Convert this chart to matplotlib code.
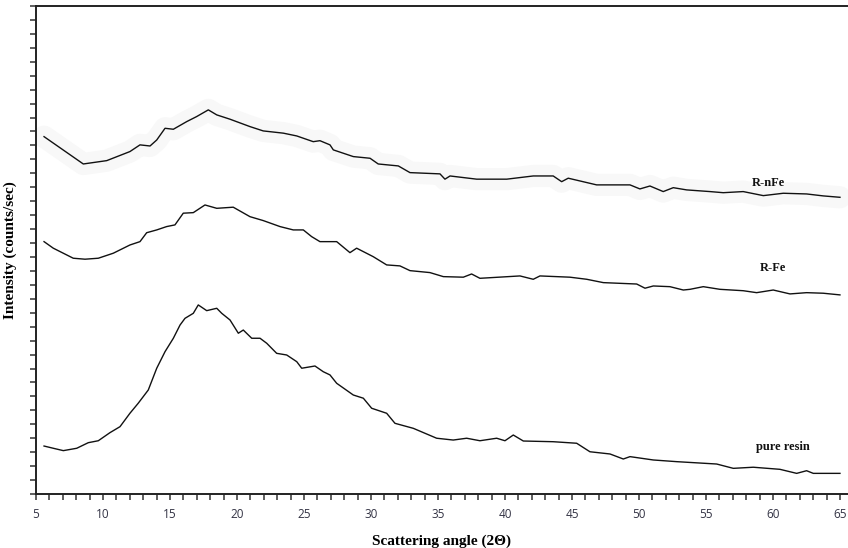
import matplotlib
matplotlib.use("Agg")
import matplotlib.pyplot as plt
from matplotlib.ticker import MultipleLocator

# ---- data (intensity in arbitrary units) ----
rnfe_x = [5.60, 8.53, 10.28, 12.01, 12.76, 13.51, 14.01, 14.63, 15.25, 16.25, 16.99, 17.86,
          18.49, 19.48, 20.97, 21.96, 23.46, 24.46, 25.69, 26.19, 26.94, 27.19, 28.68, 29.93,
          30.54, 32.04, 32.91, 35.15, 35.52, 35.90, 37.89, 40.13, 42.11, 43.60, 44.23, 44.72,
          46.84, 49.33, 50.07, 50.82, 51.81, 52.56, 53.56, 55.30, 56.29, 57.78, 59.28, 60.77,
          62.51, 63.75, 65.00]
rnfe_y = [25.63, 23.67, 23.91, 24.56, 25.04, 24.96, 25.39, 26.23, 26.16, 26.71, 27.07, 27.55,
          27.19, 26.88, 26.35, 26.04, 25.88, 25.68, 25.27, 25.34, 25.04, 24.68, 24.20, 24.08,
          23.67, 23.53, 23.05, 22.96, 22.58, 22.81, 22.58, 22.58, 22.81, 22.81, 22.40, 22.65,
          22.17, 22.17, 21.88, 22.09, 21.69, 21.97, 21.81, 21.69, 21.61, 21.69, 21.40, 21.57,
          21.52, 21.38, 21.28]

rfe_x = [5.60, 6.29, 7.78, 8.66, 9.65, 10.77, 12.01, 12.76, 13.26, 14.01, 14.75, 15.37,
         15.99, 16.74, 17.61, 18.49, 19.72, 20.97, 21.96, 23.21, 24.20, 24.95, 25.57, 26.19,
         27.44, 28.43, 28.93, 30.17, 31.17, 32.16, 32.91, 34.40, 35.40, 36.89, 37.51, 38.13,
         41.12, 42.11, 42.61, 44.85, 46.10, 47.34, 48.58, 49.83, 50.45, 51.07, 52.31, 53.31,
         53.81, 54.80, 56.04, 57.78, 58.78, 60.02, 61.27, 62.51, 63.75, 65.00]
rfe_y = [18.10, 17.63, 16.91, 16.84, 16.91, 17.27, 17.86, 18.10, 18.74, 18.94, 19.18, 19.30,
         20.14, 20.18, 20.73, 20.49, 20.57, 19.89, 19.61, 19.18, 18.94, 18.94, 18.46, 18.10,
         18.10, 17.31, 17.63, 17.02, 16.43, 16.36, 16.02, 15.88, 15.59, 15.55, 15.78, 15.47,
         15.64, 15.40, 15.64, 15.55, 15.40, 15.16, 15.11, 15.06, 14.76, 14.92, 14.87, 14.63,
         14.68, 14.87, 14.68, 14.58, 14.44, 14.63, 14.35, 14.44, 14.40, 14.28]

resin_x = [5.60, 6.29, 7.04, 8.04, 8.90, 9.65, 10.52, 11.27, 12.01, 12.63, 13.38, 14.01,
           14.63, 15.25, 15.75, 16.12, 16.74, 17.11, 17.74, 18.49, 18.86, 19.48, 20.10, 20.47,
           21.10, 21.72, 22.22, 22.96, 23.71, 24.46, 24.83, 25.82, 26.44, 26.94, 27.44, 28.68,
           29.43, 30.05, 31.17, 31.79, 33.16, 34.90, 36.14, 37.14, 38.13, 39.38, 40.00, 40.62,
           41.37, 43.60, 45.35, 46.34, 47.84, 48.83, 49.33, 51.07, 52.81, 55.80, 57.04, 58.53,
           60.52, 61.77, 62.51, 63.01, 65.00]
resin_y = [3.44, 3.28, 3.11, 3.28, 3.68, 3.82, 4.40, 4.83, 5.79, 6.51, 7.46, 9.02,
           10.21, 11.17, 12.12, 12.60, 12.96, 13.56, 13.15, 13.32, 12.96, 12.48, 11.53, 11.76,
           11.17, 11.17, 10.81, 10.09, 9.97, 9.49, 9.02, 9.18, 8.77, 8.54, 7.94, 7.10,
           6.87, 6.15, 5.79, 5.07, 4.71, 4.00, 3.87, 4.00, 3.82, 4.00, 3.82, 4.23,
           3.80, 3.75, 3.64, 3.03, 2.87, 2.51, 2.68, 2.44, 2.32, 2.15, 1.84, 1.92,
           1.77, 1.48, 1.67, 1.48, 1.48]

series_labels = ["R-nFe", "R-Fe", "pure resin"]
label_pos_x = [59.65, 60.0, 60.75]
label_pos_y = [22.3, 16.2, 3.37]

xlabel = "Scattering angle (2\u0398)"
ylabel = "Intensity (counts/sec)"

# ---- figure ----
fig = plt.figure(figsize=(8.48, 5.48), dpi=100)
ax = fig.add_axes([36/848, 54/548, 1 - 36/848, 488/548])

# very faint grey halo behind the top pattern
ax.plot(rnfe_x, rnfe_y, color="#f8f8f8", lw=16, solid_capstyle="round", zorder=1)
for xs, ys in [(rnfe_x, rnfe_y), (rfe_x, rfe_y), (resin_x, resin_y)]:
    ax.plot(xs, ys, color="#111111", lw=1.0, zorder=3)

serif = ["Liberation Serif", "DejaVu Serif"]
for lab, lx, ly in zip(series_labels, label_pos_x, label_pos_y):
    ax.text(lx, ly, lab, fontsize=9, fontweight="bold", family=serif,
            ha="center", va="center", color="#111111")

ax.set_xlim(5, 65.6)
ax.set_ylim(0, 35)
ax.xaxis.set_major_locator(MultipleLocator(5))
ax.xaxis.set_minor_locator(MultipleLocator(1))
ax.yaxis.set_major_locator(MultipleLocator(1))
ax.set_yticklabels([])
ax.tick_params(axis="both", which="both", direction="out", length=4, width=1.1,
               color="#333333")
ax.tick_params(axis="x", labelsize=8.5, labelcolor="#333344", pad=6)
for lbl in ax.get_xticklabels():
    lbl.set_family(["Open Sans", "DejaVu Sans"])

ax.spines["right"].set_visible(False)
for s in ["left", "bottom", "top"]:
    ax.spines[s].set_linewidth(1.4)
    ax.spines[s].set_color("#222222")

ax.set_xlabel(xlabel, fontsize=11, fontweight="bold", family=serif, labelpad=10)
ax.set_ylabel(ylabel, fontsize=11, fontweight="bold", family=serif)
ax.yaxis.set_label_coords(-19/812, 0.5)

fig.savefig("out.png", dpi=100)
